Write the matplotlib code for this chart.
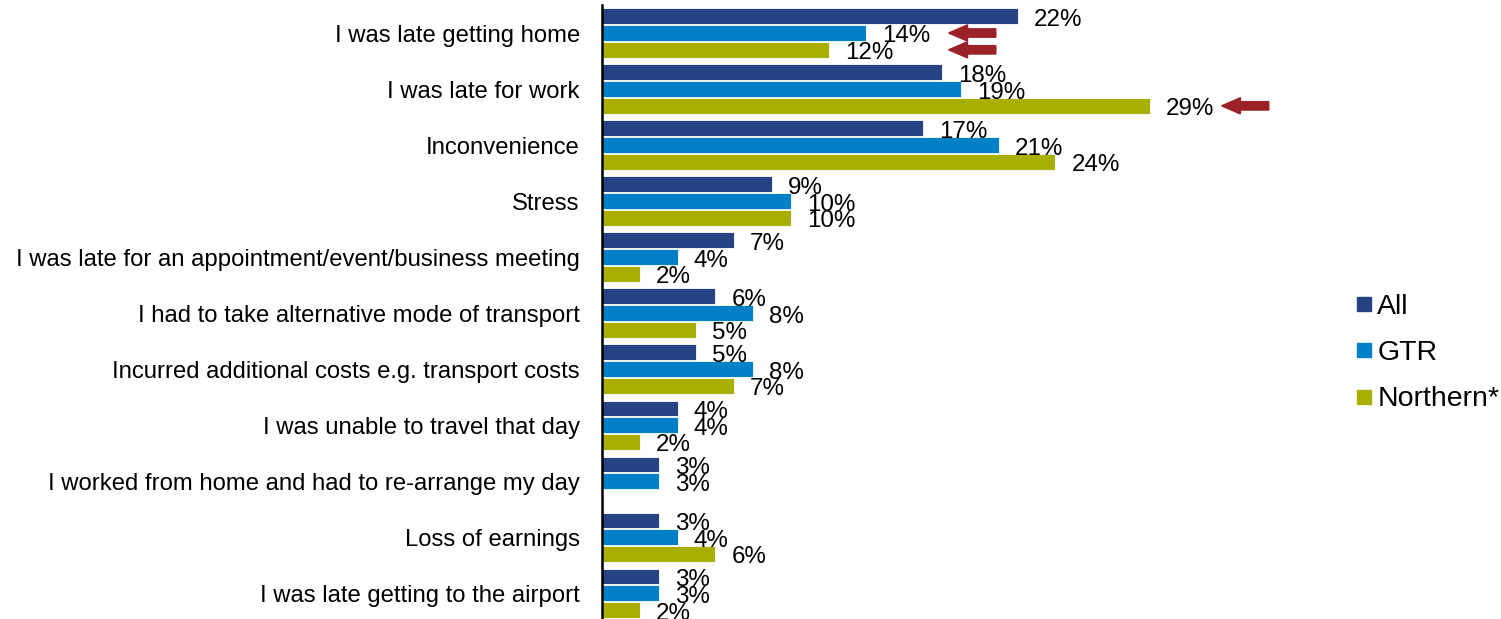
import numpy as np
import matplotlib.pyplot as plt
from matplotlib.patches import FancyArrow
from matplotlib.lines import Line2D

plt.rcParams['font.family'] = ['Liberation Sans', 'DejaVu Sans']

categories = [
    "I was late getting home",
    "I was late for work",
    "Inconvenience",
    "Stress",
    "I was late for an appointment/event/business meeting",
    "I had to take alternative mode of transport",
    "Incurred additional costs e.g. transport costs",
    "I was unable to travel that day",
    "I worked from home and had to re-arrange my day",
    "Loss of earnings",
    "I was late getting to the airport",
]
series_names = ["All", "GTR", "Northern*"]
all_vals = [22, 18, 17, 9, 7, 6, 5, 4, 3, 3, 3]
gtr_vals = [14, 19, 21, 10, 4, 8, 8, 4, 3, 4, 3]
northern_vals = [12, 29, 24, 10, 2, 5, 7, 2, None, 6, 2]
colors = ["#264282", "#0080C6", "#A8AF00"]

# highlighted bars: (category index, series index, arrow tip x)
arrows = [(0, 1, 18.35), (0, 2, 18.35), (1, 2, 32.8)]

fig = plt.figure(figsize=(15.01, 6.19), dpi=100)
ax = fig.add_axes([602 / 1501, 0, 680 / 1501, 614 / 619])

y = np.arange(len(categories))
slot = 0.3
for k, (vals, col) in enumerate(zip([all_vals, gtr_vals, northern_vals], colors)):
    for i, v in enumerate(vals):
        if v is None:
            continue
        yy = y[i] + (k - 1) * slot
        ax.barh(yy, v, height=0.28, color=col, edgecolor="white", linewidth=0.6)
        ax.annotate(f"{v}%", (v, yy), xytext=(11.5, -2.5), textcoords="offset points",
                    ha="left", va="center", fontsize=17.4, color="black")

for ci, si, tip in arrows:
    yy = y[ci] + (si - 1) * slot
    ax.add_patch(FancyArrow(tip + 2.5, yy, -2.5, 0, width=0.15, head_width=0.29,
                            head_length=1.0, length_includes_head=True,
                            color="#9B2226", clip_on=False))

ax.set_xlim(0, 36)
ax.set_ylim(len(categories) - 0.54, -0.5)
ax.set_yticks(y)
ax.set_yticklabels(categories, fontsize=17.2)
ax.tick_params(axis="y", length=0, pad=16)
ax.set_xticks([])
for s in ["top", "right", "bottom"]:
    ax.spines[s].set_visible(False)
ax.spines["left"].set_linewidth(1.8)

handles = [Line2D([], [], marker="s", linestyle="none", markersize=10,
                  markerfacecolor=c, markeredgecolor=c) for c in colors]
fig.legend(handles, series_names, loc="center left", bbox_to_anchor=(1326 / 1501, 1 - 353 / 619),
           frameon=False, fontsize=20.5, handletextpad=0.0, labelspacing=0.72,
           handlelength=0.9)

fig.savefig("out.png", dpi=100)
